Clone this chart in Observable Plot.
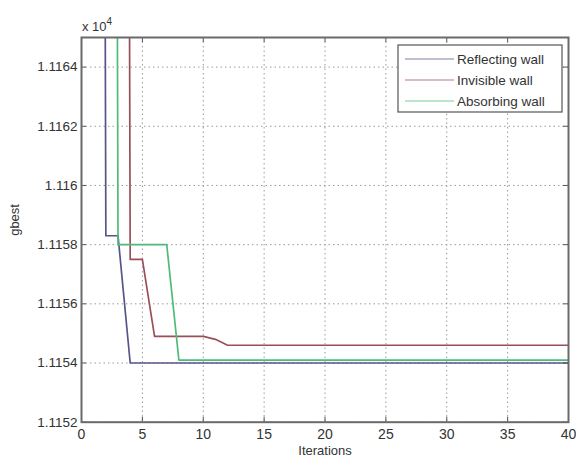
<!DOCTYPE html>
<html>
<head>
<meta charset="utf-8">
<script src="https://cdn.jsdelivr.net/npm/d3@7"></script>
<script src="https://cdn.jsdelivr.net/npm/@observablehq/plot@0.6"></script>
<style>
  html, body { margin: 0; padding: 0; background: #fff; }
  svg { display: block; }
</style>
</head>
<body>
<div id="chart"></div>
<script>
// iterations 1..40, gbest values in units of 10^4 (1.13 = off-scale start)
const iterations = d3.range(1, 41);
const reflecting = [1.13, 1.11583, 1.11583, 1.1154, 1.1154, 1.1154, 1.1154, 1.1154, 1.1154, 1.1154,
  1.1154, 1.1154, 1.1154, 1.1154, 1.1154, 1.1154, 1.1154, 1.1154, 1.1154, 1.1154,
  1.1154, 1.1154, 1.1154, 1.1154, 1.1154, 1.1154, 1.1154, 1.1154, 1.1154, 1.1154,
  1.1154, 1.1154, 1.1154, 1.1154, 1.1154, 1.1154, 1.1154, 1.1154, 1.1154, 1.1154];
const invisible = [1.13, 1.13, 1.13, 1.11575, 1.11575, 1.11549, 1.11549, 1.11549, 1.11549, 1.11549,
  1.11548, 1.11546, 1.11546, 1.11546, 1.11546, 1.11546, 1.11546, 1.11546, 1.11546, 1.11546,
  1.11546, 1.11546, 1.11546, 1.11546, 1.11546, 1.11546, 1.11546, 1.11546, 1.11546, 1.11546,
  1.11546, 1.11546, 1.11546, 1.11546, 1.11546, 1.11546, 1.11546, 1.11546, 1.11546, 1.11546];
const absorbing = [1.13, 1.13, 1.1158, 1.1158, 1.1158, 1.1158, 1.1158, 1.11541, 1.11541, 1.11541,
  1.11541, 1.11541, 1.11541, 1.11541, 1.11541, 1.11541, 1.11541, 1.11541, 1.11541, 1.11541,
  1.11541, 1.11541, 1.11541, 1.11541, 1.11541, 1.11541, 1.11541, 1.11541, 1.11541, 1.11541,
  1.11541, 1.11541, 1.11541, 1.11541, 1.11541, 1.11541, 1.11541, 1.11541, 1.11541, 1.11541];
const seriesNames = ["Reflecting wall", "Invisible wall", "Absorbing wall"];
const seriesColors = ["#55558a", "#9a4e5c", "#4fba7a"];
const xTicks = [0, 5, 10, 15, 20, 25, 30, 35, 40];
const yTicks = [1.1152, 1.1154, 1.1156, 1.1158, 1.116, 1.1162, 1.1164];
const yTickLabels = ["1.1152", "1.1154", "1.1156", "1.1158", "1.116", "1.1162", "1.1164"];

const allSeries = [reflecting, invisible, absorbing];
const data = allSeries.flatMap((vals, s) =>
  iterations.map((it, i) => ({iter: it, value: vals[i], series: seriesNames[s]})));

const W = 576, H = 459;
const mL = 81, mR = 8, mT = 37, mB = 37.3;
const fw = W - mL - mR, fh = H - mT - mB;
const font = "Liberation Sans, Arial, sans-serif";

const chart = Plot.plot({
  width: W, height: H,
  marginLeft: mL, marginRight: mR, marginTop: mT, marginBottom: mB,
  style: {fontFamily: font, fontSize: "13.5px", color: "#333", background: "#fff"},
  x: {domain: [0, 40], ticks: xTicks},
  y: {domain: [1.1152, 1.1165], ticks: yTicks},
  color: {domain: seriesNames, range: seriesColors},
  marks: [
    Plot.gridX(xTicks, {stroke: "#9a9a9a", strokeOpacity: 1, strokeDasharray: "1.5,3"}),
    Plot.gridY(yTicks, {stroke: "#9a9a9a", strokeOpacity: 1, strokeDasharray: "1.5,3"}),
    Plot.line(data, {x: "iter", y: "value", z: "series", stroke: "series", strokeWidth: 1.7, clip: true, curve: "linear"}),
    // inward ticks on all four sides
    Plot.ruleX(xTicks, {stroke: "#555", insetTop: fh - 5}),
    Plot.ruleX(xTicks, {stroke: "#555", insetBottom: fh - 5}),
    Plot.ruleY(yTicks, {stroke: "#555", insetRight: fw - 5}),
    Plot.ruleY(yTicks, {stroke: "#555", insetLeft: fw - 5}),
    Plot.axisX(xTicks, {tickSize: 0, tickPadding: 7, label: null, fontSize: 14, fill: "#333"}),
    Plot.axisY(yTicks, {tickSize: 0, tickPadding: 4, label: null, fontSize: 13.5, fill: "#333",
      tickFormat: (d) => yTickLabels[yTicks.indexOf(d)]}),
    Plot.frame({stroke: "#6a6a6a", strokeWidth: 2}),
    Plot.text(["Iterations"], {frameAnchor: "bottom", dy: 33, fontSize: 13, fill: "#333"}),
    Plot.text(["gbest"], {frameAnchor: "left", dx: -67, dy: 6, rotate: -90, fontSize: 13, fill: "#333"})
  ]
});

document.getElementById("chart").appendChild(chart);

// exponent label and legend
const svg = d3.select(chart);
const ex = svg.append("text")
  .attr("x", mL + 1).attr("y", 31).attr("text-anchor", "start")
  .attr("font-family", font).attr("font-size", 13).attr("fill", "#333");
ex.append("tspan").text("x 10");
ex.append("tspan").attr("dy", -6).attr("font-size", 10).text("4");

const lg = svg.append("g").attr("font-family", font).attr("font-size", 13.5)
  .attr("fill", "#333").attr("text-anchor", "start");
lg.append("rect").attr("x", 398).attr("y", 45).attr("width", 164).attr("height", 67)
  .attr("fill", "#fff").attr("stroke", "#555").attr("stroke-width", 1.2);
seriesNames.forEach((name, i) => {
  const yy = 59 + i * 21;
  lg.append("line").attr("x1", 405).attr("x2", 454).attr("y1", yy).attr("y2", yy)
    .attr("stroke", seriesColors[i]).attr("stroke-width", 1.2).attr("stroke-opacity", 0.75);
  lg.append("text").attr("x", 457).attr("y", yy).attr("dy", "0.35em").text(name);
});
</script>
</body>
</html>
